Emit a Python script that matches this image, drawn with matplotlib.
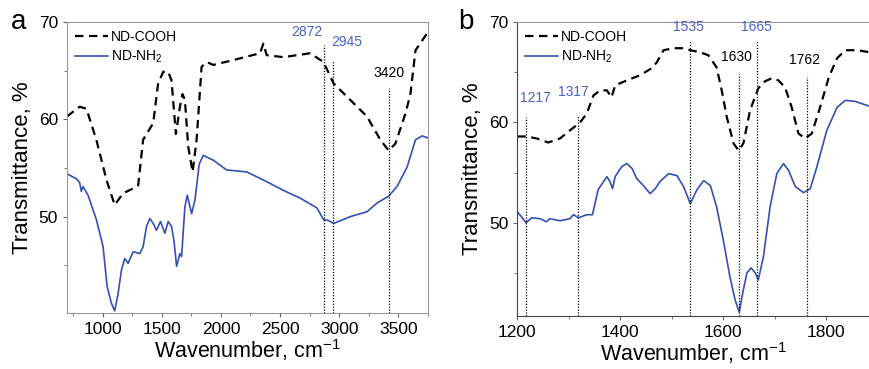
import numpy as np
import matplotlib
matplotlib.use('Agg')
import matplotlib.pyplot as plt
from matplotlib.ticker import MultipleLocator

plt.rcParams['font.family'] = ['Liberation Sans', 'DejaVu Sans']
plt.rcParams['mathtext.default'] = 'regular'

# ---- panel a : full range spectra ----
a_cooh_x = [700, 807, 864, 948, 1033, 1103, 1174, 1259, 1301, 1343, 1372, 1428, 1470, 1513, 1555,
            1583, 1620, 1654, 1676, 1696, 1724, 1761, 1795, 1837, 1880, 1936, 2105, 2331, 2359,
            2387, 2528, 2754, 2867, 2952, 3093, 3234, 3347, 3417, 3474, 3559, 3601, 3644, 3700, 3750]
a_cooh_y = [60.3, 61.3, 61.1, 57.9, 53.8, 51.2, 52.4, 52.9, 53.2, 57.9, 58.5, 59.6, 63.7, 64.9, 64.9,
            64.0, 58.5, 61.3, 62.6, 62.0, 57.2, 54.6, 57.9, 65.4, 65.9, 65.6, 66.1, 66.8, 67.8,
            66.6, 66.4, 66.8, 65.9, 63.7, 62.0, 60.3, 57.9, 56.8, 57.5, 60.6, 62.6, 67.1, 68.1, 69.0]

a_nh2_x = [700, 779, 807, 821, 835, 878, 948, 991, 1005, 1039, 1075, 1103, 1132, 1160, 1188, 1216,
           1259, 1315, 1343, 1372, 1400, 1428, 1456, 1490, 1527, 1555, 1583, 1603, 1626, 1654, 1668,
           1696, 1716, 1753, 1781, 1817, 1851, 1936, 2049, 2218, 2387, 2528, 2670, 2811, 2867, 2909,
           2952, 3093, 3234, 3319, 3417, 3488, 3573, 3644, 3700, 3750]
a_nh2_y = [54.4, 53.9, 53.5, 52.6, 53.1, 52.2, 49.7, 47.6, 46.9, 42.8, 41.1, 40.3, 42.1, 44.5, 45.7, 45.2,
           46.4, 46.2, 46.9, 49.0, 49.8, 49.3, 48.6, 49.5, 48.3, 49.5, 49.0, 47.6, 44.9, 46.2, 45.9,
           51.0, 52.2, 50.3, 51.7, 55.4, 56.3, 55.8, 54.8, 54.6, 53.6, 52.7, 51.9, 50.9, 49.7, 49.6,
           49.3, 50.0, 50.5, 51.4, 52.1, 53.1, 55.1, 57.9, 58.3, 58.1]

a_peaks = [2872, 2945, 3420]
a_peak_top = [67.6, 66.1, 63.2]
a_labels = ['2872', '2945', '3420']
a_label_pos = [(2726, 68.3), (3065, 67.2), (3417, 64.1)]
a_label_col = ['blue', 'blue', 'black']

# ---- panel b : 1200-1885 region ----
b_cooh_x = [1200, 1218, 1238, 1260, 1283, 1302, 1322, 1335, 1348, 1361, 1374, 1383, 1390, 1413, 1438,
            1461, 1471, 1484, 1503, 1523, 1536, 1555, 1571, 1587, 1597, 1607, 1620, 1630, 1639, 1652,
            1668, 1681, 1694, 1707, 1720, 1733, 1746, 1759, 1772, 1788, 1805, 1821, 1837, 1860, 1885]
b_cooh_y = [58.6, 58.6, 58.4, 58.0, 58.4, 59.2, 60.0, 60.9, 62.7, 63.2, 63.2, 62.5, 63.7, 64.2, 64.7,
            65.4, 66.0, 67.2, 67.4, 67.4, 67.2, 67.0, 66.7, 65.5, 63.2, 60.5, 57.9, 57.2, 57.9, 61.2,
            63.4, 64.1, 64.4, 64.2, 63.5, 61.5, 58.9, 58.4, 58.9, 61.5, 64.5, 66.4, 67.2, 67.2, 67.0]

b_nh2_x = [1200, 1208, 1217, 1228, 1244, 1257, 1263, 1283, 1302, 1309, 1319, 1335, 1346, 1357, 1374,
           1380, 1385, 1390, 1403, 1413, 1423, 1432, 1445, 1458, 1468, 1477, 1494, 1510, 1523, 1536,
           1549, 1562, 1575, 1587, 1600, 1613, 1623, 1631, 1639, 1646, 1654, 1662, 1668, 1678, 1691,
           1704, 1717, 1727, 1740, 1756, 1769, 1782, 1801, 1821, 1837, 1856, 1885]
b_nh2_y = [51.1, 50.6, 50.0, 50.5, 50.4, 50.1, 50.4, 50.2, 50.4, 50.8, 50.5, 50.8, 50.8, 53.3, 54.6,
           54.1, 53.4, 54.6, 55.6, 55.9, 55.4, 54.4, 53.7, 52.9, 53.4, 54.1, 54.9, 54.7, 53.6, 51.9,
           53.3, 54.2, 53.7, 51.6, 48.3, 44.6, 42.3, 41.1, 43.3, 45.0, 45.5, 45.0, 44.3, 46.6, 51.6,
           54.9, 55.9, 55.2, 53.6, 53.0, 53.4, 55.6, 59.2, 61.5, 62.2, 62.1, 61.6]

b_peaks = [1217, 1317, 1535, 1630, 1665, 1762]
b_peak_top = [60.5, 60.7, 68.0, 64.8, 68.0, 64.5]
b_labels = ['1217', '1317', '1535', '1630', '1665', '1762']
b_label_pos = [(1236, 61.7), (1309, 62.3), (1532, 68.8), (1626, 65.8), (1665, 68.8), (1758, 65.5)]
b_label_col = ['blue', 'blue', 'blue', 'black', 'blue', 'black']

line_blue = '#3550b0'
text_blue = '#4862c0'
cols = {'blue': text_blue, 'black': 'black'}

fig = plt.figure(figsize=(8.7, 3.69), dpi=100)
axa = fig.add_axes([0.077, 0.152, 0.415, 0.788])
axb = fig.add_axes([0.5946, 0.1436, 0.4054, 0.7964])


def draw(ax, cx, cy, nx, ny, peaks, tops, labels, lpos, lcol, ylo):
    ax.plot(cx, cy, color='black', lw=1.6, ls=(0, (3.8, 2.5)), label='ND-COOH')
    ax.plot(nx, ny, color=line_blue, lw=1.2, label='ND-NH$_2$')
    ax.vlines(peaks, ylo, tops, colors='black', linestyles=(0, (1, 1.3)), lw=0.9)
    for t, (x, y), c in zip(labels, lpos, lcol):
        ax.text(x, y, t, color=cols[c], fontsize=10, ha='center', va='bottom')
    ax.set_ylabel('Transmittance, %', fontsize=16)
    ax.set_xlabel('Wavenumber, cm$^{-1}$', fontsize=15.5, labelpad=0)
    ax.tick_params(which='both', direction='out', labelsize=12.5, length=3, color='#666666')
    ax.tick_params(which='minor', length=2)
    ax.yaxis.set_major_locator(MultipleLocator(10))
    ax.yaxis.set_minor_locator(MultipleLocator(5))
    ax.legend(loc='upper left', frameon=False, fontsize=10, handlelength=2.4,
              handletextpad=0.2, borderaxespad=0.15, labelspacing=0.35)


draw(axa, a_cooh_x, a_cooh_y, a_nh2_x, a_nh2_y, a_peaks, a_peak_top, a_labels,
     a_label_pos, a_label_col, 40.1)
axa.set_xlim(700, 3750)
axa.set_ylim(40.1, 70)
axa.xaxis.set_major_locator(MultipleLocator(500))
axa.xaxis.set_minor_locator(MultipleLocator(250))
for s in axa.spines.values():
    s.set_color('#999999')

draw(axb, b_cooh_x, b_cooh_y, b_nh2_x, b_nh2_y, b_peaks, b_peak_top, b_labels,
     b_label_pos, b_label_col, 40.7)
axb.set_xlim(1200, 1885)
axb.set_ylim(40.7, 70)
axb.xaxis.set_major_locator(MultipleLocator(200))
axb.xaxis.set_minor_locator(MultipleLocator(100))
axb.spines['top'].set_color('#999999')
axb.spines['right'].set_visible(False)
axb.spines['left'].set_color('#444444')
axb.spines['bottom'].set_color('#444444')

fig.text(0.012, 0.94, 'a', fontsize=20, va='center')
fig.text(0.527, 0.94, 'b', fontsize=20, va='center')

fig.savefig('out.png', dpi=100)
